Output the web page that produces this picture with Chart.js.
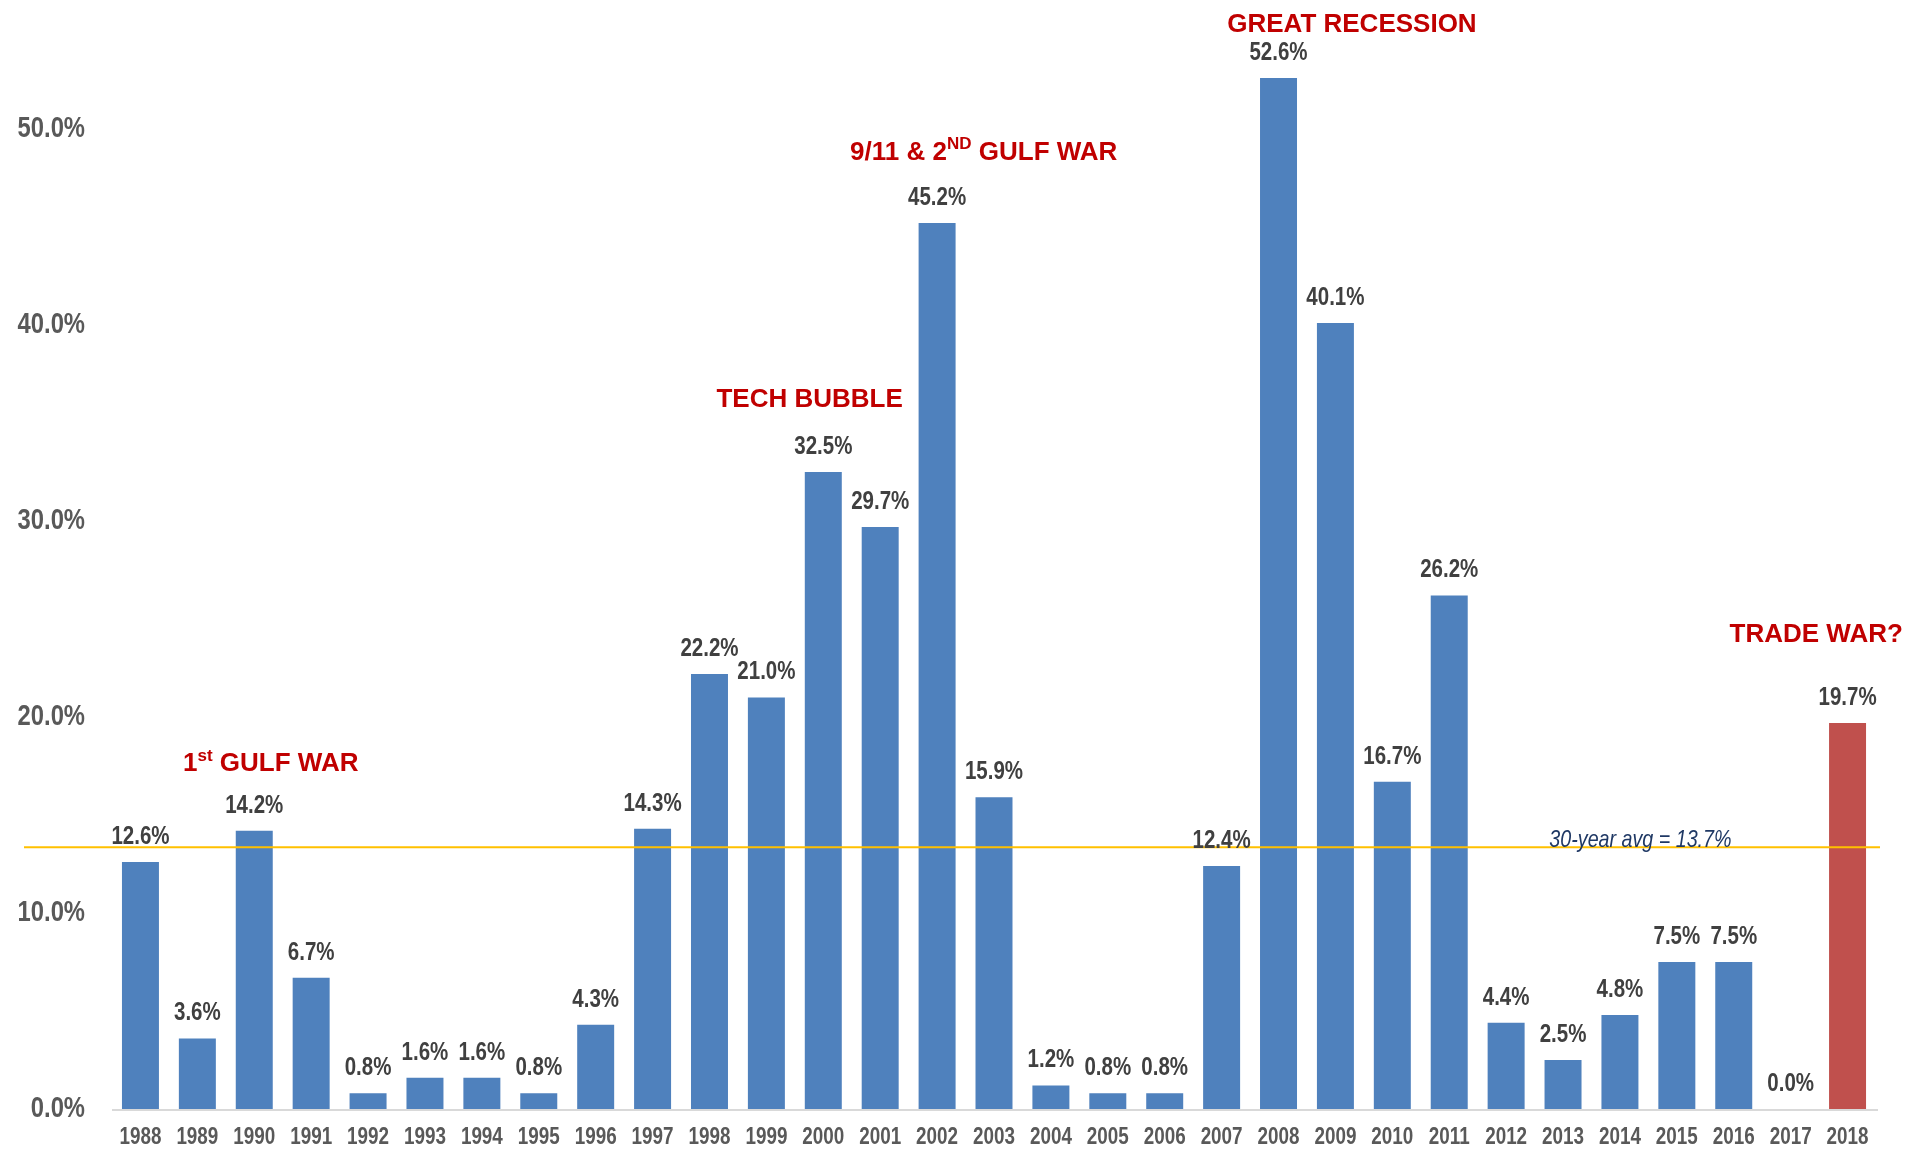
<!DOCTYPE html>
<html>
<head>
<meta charset="utf-8">
<script src="https://cdn.jsdelivr.net/npm/chart.js@4.4.1/dist/chart.umd.min.js"></script>
<style>
  html, body { margin: 0; padding: 0; background: #fff; }
  #wrap { width: 1907px; height: 1149px; }
</style>
</head>
<body>
<div id="wrap"><canvas id="drawdownChart" width="1907" height="1149"></canvas></div>
<script>
// data
const years = ['1988','1989','1990','1991','1992','1993','1994','1995','1996','1997',
  '1998','1999','2000','2001','2002','2003','2004','2005','2006','2007',
  '2008','2009','2010','2011','2012','2013','2014','2015','2016','2017','2018'];
const drops = [12.6, 3.6, 14.2, 6.7, 0.8, 1.6, 1.6, 0.8, 4.3, 14.3,
  22.2, 21.0, 32.5, 29.7, 45.2, 15.9, 1.2, 0.8, 0.8, 12.4,
  52.6, 40.1, 16.7, 26.2, 4.4, 2.5, 4.8, 7.5, 7.5, 0.0, 19.7];
const highlightYear = '2018';
const yTicks = [0, 10, 20, 30, 40, 50];
const avgLineValue = 13.35;
const avgLabel = '30-year avg = 13.7%';

// event labels: anchored at a (fractional) category index and a value on the y scale
const events = [
  { parts: [['1'], ['st', true], [' GULF WAR']], at: 2.29, val: 17.6 },
  { parts: [['TECH BUBBLE']], at: 11.76, val: 36.2 },
  { parts: [['9/11 & 2'], ['ND', true], [' GULF WAR']], at: 14.82, val: 48.8 },
  { parts: [['GREAT RECESSION']], at: 21.29, val: 55.3 },
  { parts: [['TRADE WAR?']], at: 29.45, val: 24.2 }
];

const ARIAL = "'Liberation Sans', Arial, sans-serif";
const NARROW_X = 0.82; // Arial Narrow is roughly Arial squeezed to 82%

const barColors = years.map(y => y === highlightYear ? '#C0504D' : '#4F81BD');

// draw text squeezed horizontally so it reads like Arial Narrow
function narrowText(ctx, text, x, y, font, align) {
  ctx.save();
  ctx.font = font;
  const w = ctx.measureText(text).width * NARROW_X;
  let left = x;
  if (align === 'center') left = x - w / 2;
  else if (align === 'right') left = x - w;
  ctx.translate(left, y);
  ctx.scale(NARROW_X, 1);
  ctx.textAlign = 'left';
  ctx.fillText(text, 0, 0);
  ctx.restore();
}

const overlayPlugin = {
  id: 'overlay',
  afterDatasetsDraw(chart) {
    const ctx = chart.ctx;
    const area = chart.chartArea;
    const x = chart.scales.x;
    const y = chart.scales.y;

    ctx.save();
    // axis baseline
    ctx.strokeStyle = '#D9D9D9';
    ctx.lineWidth = 2;
    ctx.beginPath();
    ctx.moveTo(area.left, area.bottom + 1);
    ctx.lineTo(area.right + 2, area.bottom + 1);
    ctx.stroke();

    // y tick labels
    ctx.fillStyle = '#595959';
    ctx.textBaseline = 'middle';
    yTicks.forEach(v => {
      narrowText(ctx, v.toFixed(1) + '%', area.left - 27, y.getPixelForValue(v),
        'bold 29px ' + ARIAL, 'right');
    });

    // x tick labels
    years.forEach((yr, i) => {
      narrowText(ctx, yr, x.getPixelForValue(i), area.bottom + 29,
        'bold 23px ' + ARIAL, 'center');
    });

    // average line
    const ay = y.getPixelForValue(avgLineValue);
    ctx.strokeStyle = '#FFC000';
    ctx.lineWidth = 2;
    ctx.beginPath();
    ctx.moveTo(24, ay);
    ctx.lineTo(area.right + 4, ay);
    ctx.stroke();

    ctx.fillStyle = '#1F3864';
    ctx.textBaseline = 'alphabetic';
    narrowText(ctx, avgLabel, x.getPixelForValue(26.36), ay, 'italic 24px ' + ARIAL, 'center');

    // value labels
    const meta = chart.getDatasetMeta(0);
    ctx.fillStyle = '#404040';
    meta.data.forEach((bar, i) => {
      narrowText(ctx, drops[i].toFixed(1) + '%', bar.x, bar.y - 18, 'bold 25px ' + ARIAL, 'center');
    });

    // event labels
    ctx.fillStyle = '#C00000';
    ctx.textBaseline = 'middle';
    ctx.textAlign = 'left';
    const big = 'bold 26px ' + ARIAL;
    const small = 'bold 17px ' + ARIAL;
    events.forEach(ev => {
      let total = 0;
      ev.parts.forEach(p => {
        ctx.font = p[1] ? small : big;
        total += ctx.measureText(p[0]).width;
      });
      let px = x.getPixelForValue(ev.at) - total / 2;
      const py = y.getPixelForValue(ev.val);
      ev.parts.forEach(p => {
        ctx.font = p[1] ? small : big;
        ctx.fillText(p[0], px, p[1] ? py - 8 : py);
        px += ctx.measureText(p[0]).width;
      });
    });
    ctx.restore();
  }
};

const ctx = document.getElementById('drawdownChart').getContext('2d');
new Chart(ctx, {
  type: 'bar',
  data: {
    labels: years,
    datasets: [{
      data: drops,
      backgroundColor: barColors,
      borderWidth: 0,
      barPercentage: 0.65,
      categoryPercentage: 1.0
    }]
  },
  options: {
    responsive: false,
    animation: false,
    layout: { padding: { top: 31, right: 31, left: 0, bottom: 0 } },
    plugins: {
      legend: { display: false },
      tooltip: { enabled: false }
    },
    scales: {
      x: {
        grid: { display: false, drawTicks: false },
        border: { display: false },
        ticks: { display: false },
        afterFit: (s) => { s.height = 40; }
      },
      y: {
        min: 0,
        max: 55,
        grid: { display: false, drawTicks: false },
        border: { display: false },
        ticks: { display: false },
        afterFit: (s) => { s.width = 112; }
      }
    }
  },
  plugins: [overlayPlugin]
});
</script>
</body>
</html>
